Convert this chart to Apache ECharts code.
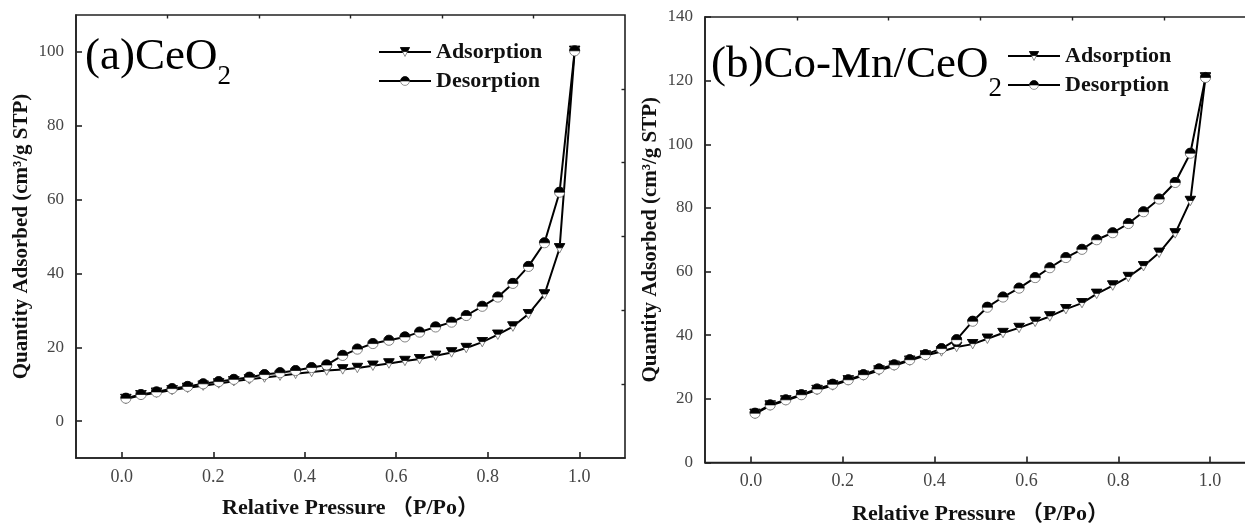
<!DOCTYPE html>
<html>
<head>
<meta charset="utf-8">
<script src="https://cdn.jsdelivr.net/npm/echarts@6/dist/echarts.min.js"></script>
<style>
html,body{margin:0;padding:0;background:#fff;}
#c{width:1245px;height:524px;}
</style>
</head>
<body>
<div id="c"></div>
<script>
// ---- data ----
const pressure = [0.009, 0.042, 0.076, 0.110, 0.144, 0.178, 0.212, 0.245, 0.279, 0.312, 0.346, 0.380, 0.415, 0.448, 0.483, 0.515, 0.549, 0.584, 0.619, 0.651, 0.686, 0.721, 0.753, 0.788, 0.822, 0.855, 0.889, 0.924, 0.957, 0.990];
const ceo2Adsorption = [6.0, 7.0, 7.7, 8.4, 9.0, 9.6, 10.2, 10.8, 11.3, 11.8, 12.3, 12.8, 13.3, 13.7, 14.0, 14.4, 15.0, 15.6, 16.3, 16.8, 17.7, 18.6, 19.8, 21.4, 23.4, 25.6, 29.0, 34.3, 46.8, 100.3];
const ceo2Desorption = [6.2, 7.2, 7.9, 8.8, 9.4, 10.1, 10.7, 11.3, 11.9, 12.6, 13.1, 13.7, 14.5, 15.2, 17.8, 19.5, 21.0, 21.9, 22.8, 24.1, 25.5, 26.8, 28.6, 31.1, 33.6, 37.3, 41.9, 48.3, 62.0, 100.3];
const comnAdsorption = [15.3, 17.9, 19.5, 21.1, 22.8, 24.2, 25.8, 27.3, 28.9, 30.4, 32.0, 33.6, 34.9, 36.3, 37.2, 38.9, 40.7, 42.3, 44.2, 45.9, 48.2, 50.1, 53.0, 55.6, 58.3, 61.7, 65.9, 72.0, 82.2, 121.0];
const comnDesorption = [15.5, 18.1, 19.7, 21.3, 23.1, 24.6, 26.0, 27.6, 29.4, 30.7, 32.3, 33.9, 35.8, 38.6, 44.4, 48.8, 52.0, 54.8, 58.1, 61.2, 64.4, 67.0, 70.0, 72.2, 75.1, 78.8, 82.8, 88.0, 97.2, 121.0];
const xTicks = [0.0, 0.2, 0.4, 0.6, 0.8, 1.0];
const xMinorTicks = [0.1, 0.3, 0.5, 0.7, 0.9];
const yTicksA = [0, 20, 40, 60, 80, 100];
const yMinorTicksA = [10, 30, 50, 70, 90];
const yTicksB = [0, 20, 40, 60, 80, 100, 120, 140];
const yMinorTicksB = [10, 30, 50, 70, 90, 110, 130];
const seriesNames = ['Adsorption', 'Desorption'];
const xTitle = 'Relative Pressure （P/Po）';
const yTitle = 'Quantity Adsorbed (cm³/g STP)';

// ---- styling helpers ----
const SERIF = "'Liberation Serif','Times New Roman','DejaVu Serif',serif";
const TITLE_FONT = "'Liberation Serif','Noto Sans CJK SC',serif";
const triSvg = '<svg xmlns="http://www.w3.org/2000/svg" width="24" height="22" viewBox="0 0 24 22">' +
  '<polygon points="1.5,1.5 22.5,1.5 12,20.5" fill="#fff" stroke="#666" stroke-width="1.6"/>' +
  '<polygon points="1.5,1.5 22.5,1.5 17.5,10 6.5,10" fill="#000" stroke="#000" stroke-width="1.6"/></svg>';
const cirSvg = '<svg xmlns="http://www.w3.org/2000/svg" width="24" height="24" viewBox="0 0 24 24">' +
  '<circle cx="12" cy="12" r="10.2" fill="#fff" stroke="#666" stroke-width="1.6"/>' +
  '<path d="M1.8,12 A10.2,10.2 0 0 1 22.2,12 Z" fill="#000" stroke="#000" stroke-width="1.4"/></svg>';
const triSym = 'image://data:image/svg+xml;charset=utf-8,' + encodeURIComponent(triSvg);
const cirSym = 'image://data:image/svg+xml;charset=utf-8,' + encodeURIComponent(cirSvg);

function pairs(xs, ys) { return xs.map((x, i) => [x, ys[i]]); }

function mainX(gi, gap) {
  return {
    type: 'value', gridIndex: gi, min: -0.1, max: 1.1,
    axisLine: { show: true, onZero: false, lineStyle: { color: '#222', width: 1.6 } },
    axisTick: { show: true, inside: true, length: 6, customValues: xTicks, lineStyle: { color: '#222', width: 1.6 } },
    axisLabel: { show: true, customValues: xTicks, margin: 10, color: '#454545', fontFamily: SERIF, fontSize: 18,
      formatter: v => v.toFixed(1) },
    splitLine: { show: false },
    name: xTitle, nameLocation: 'middle', nameGap: gap,
    nameTextStyle: { fontFamily: TITLE_FONT, fontWeight: 'bold', fontSize: 22, color: '#111' }
  };
}
function minorX(gi) {
  return {
    type: 'value', gridIndex: gi, min: -0.1, max: 1.1,
    axisLine: { show: false, onZero: false },
    axisTick: { show: true, inside: true, length: 3.5, customValues: xMinorTicks, lineStyle: { color: '#222', width: 1.4 } },
    axisLabel: { show: false }, splitLine: { show: false }
  };
}
function mainY(gi, min, max, ticks) {
  return {
    type: 'value', gridIndex: gi, min: min, max: max,
    axisLine: { show: true, onZero: false, lineStyle: { color: '#222', width: 1.6 } },
    axisTick: { show: true, inside: true, length: 6, customValues: ticks, lineStyle: { color: '#222', width: 1.6 } },
    axisLabel: { show: true, customValues: ticks, margin: 12, color: '#454545', fontFamily: SERIF, fontSize: 17 },
    splitLine: { show: false },
    name: yTitle, nameLocation: 'middle', nameGap: 44, nameRotate: 90,
    nameTextStyle: { fontFamily: SERIF, fontWeight: 'bold', fontSize: 21, color: '#111' }
  };
}
function minorY(gi, min, max, ticks) {
  return {
    type: 'value', gridIndex: gi, min: min, max: max,
    axisLine: { show: false, onZero: false },
    axisTick: { show: true, inside: true, length: 3.5, customValues: ticks, lineStyle: { color: '#222', width: 1.4 } },
    axisLabel: { show: false }, splitLine: { show: false }
  };
}
function lineSeries(name, xi, yi, data, sym, size) {
  return {
    name: name, type: 'line', xAxisIndex: xi, yAxisIndex: yi,
    data: data, symbol: sym, symbolSize: size, showAllSymbol: true,
    lineStyle: { color: '#000', width: 2 }, itemStyle: { color: '#000' },
    emphasis: { disabled: true }, z: 3
  };
}
const legendCommon = {
  orient: 'vertical', itemWidth: 52, itemHeight: 13, itemGap: 7, padding: 0, selectedMode: false,
  textStyle: { fontFamily: SERIF, fontWeight: 'bold', fontSize: 22, color: '#111', lineHeight: 22 },
  data: seriesNames
};
const titleRich = (sub) => ({
  m: { fontFamily: SERIF, fontSize: 45, lineHeight: 48, color: '#111', verticalAlign: 'top' },
  s: { fontFamily: SERIF, fontSize: 27, lineHeight: 28, color: '#111', verticalAlign: 'top', padding: [sub, 0, 0, 0] }
});

const chart = echarts.init(document.getElementById('c'), null, { renderer: 'canvas' });
chart.setOption({
  animation: false,
  backgroundColor: '#fff',
  grid: [
    { left: 76, top: 15, width: 549, height: 443, show: true, borderColor: '#222', borderWidth: 1.6,
      backgroundColor: 'transparent', outerBoundsMode: 'none', containLabel: false },
    { left: 705, top: 17, width: 551, height: 445.5, show: true, borderColor: '#222', borderWidth: 1.6,
      backgroundColor: 'transparent', outerBoundsMode: 'none', containLabel: false }
  ],
  xAxis: [mainX(0, 39), minorX(0), mainX(1, 41), minorX(1)],
  yAxis: [mainY(0, -10, 110, yTicksA), minorY(0, -10, 110, yMinorTicksA), mainY(1, 0, 140, yTicksB), minorY(1, 0, 140, yMinorTicksB)],
  legend: [
    Object.assign({ left: 378, top: 41 }, legendCommon),
    Object.assign({ left: 1007, top: 45 }, legendCommon)
  ],
  graphic: [
    { type: 'text', left: 85, top: 35, z: 10, style: { text: '{m|(a)CeO}{s|2}', rich: titleRich(28) } },
    { type: 'text', left: 711, top: 43, z: 10, style: { text: '{m|(b)Co-Mn/CeO}{s|2}', rich: titleRich(32) } }
  ],
  series: [
    lineSeries(seriesNames[0], 0, 0, pairs(pressure, ceo2Adsorption), triSym, [12, 11]),
    lineSeries(seriesNames[1], 0, 0, pairs(pressure, ceo2Desorption), cirSym, [12, 12]),
    lineSeries(seriesNames[0], 2, 2, pairs(pressure, comnAdsorption), triSym, [12, 11]),
    lineSeries(seriesNames[1], 2, 2, pairs(pressure, comnDesorption), cirSym, [12, 12])
  ]
});
</script>
</body>
</html>
